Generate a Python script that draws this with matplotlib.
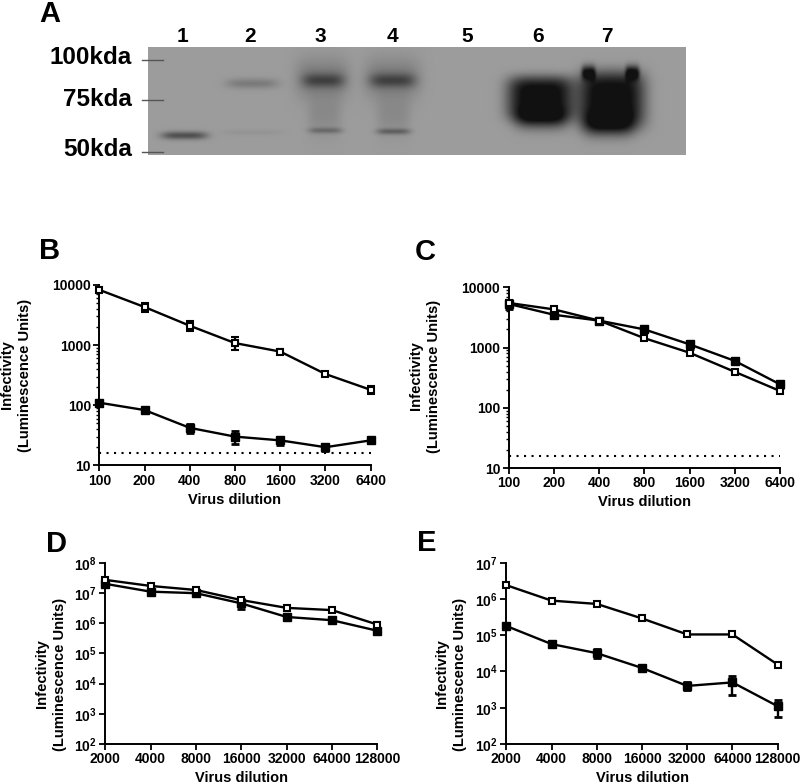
import numpy as np
import matplotlib
matplotlib.use('Agg')
import matplotlib.pyplot as plt

plt.rcParams['font.family'] = ['Liberation Sans', 'DejaVu Sans']
plt.rcParams['font.weight'] = 'bold'
plt.rcParams['mathtext.fontset'] = 'custom'
plt.rcParams['mathtext.bf'] = 'Liberation Sans:bold'
plt.rcParams['mathtext.rm'] = 'Liberation Sans:bold'

W = 800
H = 784
NARROW = ['Liberation Sans Narrow', 'Liberation Sans']

# gel
lane_labels = ['1', '2', '3', '4', '5', '6', '7']
lane_x = [182, 250, 320, 392, 467, 538, 607]
size_labels = ['100kda', '75kda', '50kda']
size_y = [58, 100, 150]
size_tick_y = [60, 100, 152]
# one row per smear: centre x, centre y, half width x, half width y, darkness, y sharpness
band_cx = [184, 252, 252, 322, 323, 324, 325, 392, 392, 393, 393, 540, 541, 611, 608, 588, 632]
band_cy = [135, 83, 132, 78, 80, 115, 130, 78, 80, 115, 131, 98, 120, 100, 125, 72, 72]
band_sx = [23, 26, 30, 27, 21, 17, 17, 28, 23, 17, 17, 33, 27, 33, 25, 7, 7]
band_sy = [4, 5, 3, 20, 7, 20, 3, 20, 7, 20, 3, 22, 10, 29, 12, 7, 7]
band_amp = [0.30, 0.13, 0.03, 0.14, 0.22, 0.07, 0.16, 0.14, 0.22, 0.07, 0.20, 0.60, 0.32, 0.60, 0.30, 0.45, 0.45]
band_ey = [2, 2, 2, 2, 2, 2, 2, 2, 2, 2, 2, 4, 2, 4, 2, 2, 2]

# plots
x_b = ['100', '200', '400', '800', '1600', '3200', '6400']
x_d = ['2000', '4000', '8000', '16000', '32000', '64000', '128000']

b_open = [8300, 4300, 2100, 1080, 780, 330, 180]
b_open_err = [600, 800, 400, 260, 70, 25, 25]
b_fill = [110, 83, 42, 30, 26, 20, 26]
b_fill_err = [8, 6, 7, 7, 4, 3, 2]

c_open = [5500, 4300, 2800, 1430, 820, 395, 190]
c_open_err = [300, 250, 200, 90, 60, 30, 15]
c_fill = [5300, 3500, 2800, 2000, 1130, 600, 245]
c_fill_err = [900, 350, 300, 170, 170, 50, 35]

d_open = [2.7e7, 1.7e7, 1.25e7, 5.8e6, 3.2e6, 2.7e6, 9e5]
d_open_err = [5e6, 2.5e6, 1.5e6, 1e6, 6e5, 3e5, 1.5e5]
d_fill = [2e7, 1.1e7, 9.8e6, 4.5e6, 1.6e6, 1.25e6, 5.6e5]
d_fill_err = [3e6, 1.2e6, 1e6, 1.6e6, 2e5, 1.5e5, 7e4]

e_open = [2.4e6, 9e5, 7.3e5, 2.9e5, 1.05e5, 1.05e5, 1.55e4]
e_open_err = [2e5, 8e4, 6e4, 3e4, 8e3, 8e3, 1.5e3]
e_fill = [1.8e5, 5.7e4, 3.2e4, 1.25e4, 4e3, 5e3, 1.1e3]
e_fill_err = [2e4, 6e3, 9e3, 1e3, 1e3, 2.7e3, 550]


def add_axes_px(fig, left, right, top, bottom):
    return fig.add_axes([left / W, 1 - bottom / H, (right - left) / W, (bottom - top) / H])


def put_text(fig, x, y, s, **kw):
    kw.setdefault('ha', 'center')
    kw.setdefault('va', 'center')
    fig.text(x / W, 1 - y / H, s, **kw)


def draw_panel(fig, box, xlabels, y_open, err_open, y_fill, err_fill, ylim, yticks, yticklabels,
               minor=False, dotted=None, ylab_x=0, ylab_y=0, xlab_y=0):
    ax = add_axes_px(fig, *box)
    xs = np.arange(len(xlabels))
    style = dict(color='black', lw=1.7, capsize=2.8, capthick=2, elinewidth=1.7, clip_on=False)
    ax.errorbar(xs, y_fill, yerr=err_fill, marker='s', ms=6, mfc='black', mec='black', zorder=3, **style)
    ax.errorbar(xs, y_open, yerr=err_open, marker='s', ms=5, mfc='white', mec='black', mew=1.5, zorder=4, **style)
    if dotted is not None:
        ax.plot([0, 6], [dotted, dotted], color='black', lw=1.5, ls=(0, (1, 2.6)), zorder=2)
    ax.set_yscale('log')
    ax.set_xlim(0, 6)
    ax.set_ylim(*ylim)
    ax.set_xticks(xs)
    ax.set_xticklabels(xlabels, fontsize=10, fontweight='bold')
    ax.set_yticks(yticks)
    ax.set_yticklabels(yticklabels, fontsize=10, fontweight='bold')
    if minor:
        ax.yaxis.set_minor_locator(matplotlib.ticker.LogLocator(base=10, subs=np.arange(2, 10), numticks=12))
    else:
        ax.yaxis.set_minor_locator(matplotlib.ticker.NullLocator())
    ax.yaxis.set_minor_formatter(matplotlib.ticker.NullFormatter())
    ax.tick_params(axis='both', which='major', length=4, width=1.3, pad=2)
    ax.tick_params(axis='y', which='minor', length=2.2, width=1.0)
    ax.spines['top'].set_visible(False)
    ax.spines['right'].set_visible(False)
    ax.spines['left'].set_linewidth(1.4)
    ax.spines['bottom'].set_linewidth(1.4)
    ax.patch.set_alpha(0)
    put_text(fig, (box[0] + box[1]) / 2, xlab_y, 'Virus dilution', fontsize=10.5, fontweight='bold')
    put_text(fig, ylab_x, ylab_y, 'Infectivity\n(Luminescence Units)', rotation=90, fontsize=10.6,
             fontweight='bold', linespacing=1.3, multialignment='center')
    return ax


fig = plt.figure(figsize=(W / 100, H / 100), dpi=100)

# gel image, built from the band table
gel_left, gel_right, gel_top, gel_bottom = 148, 686, 47, 155
gx, gy = np.meshgrid(np.arange(gel_left, gel_right), np.arange(gel_top, gel_bottom))
gel = np.full(gx.shape, 0.61)
for cx, cy, sx, sy, amp, ey in zip(band_cx, band_cy, band_sx, band_sy, band_amp, band_ey):
    gel -= amp * np.exp(-np.abs((gx - cx) / sx) ** 4 - np.abs((gy - cy) / sy) ** ey)
gel = np.clip(gel, 0.07, 1)
ax_gel = add_axes_px(fig, gel_left, gel_right, gel_top, gel_bottom)
ax_gel.imshow(gel, cmap='gray', vmin=0, vmax=1, aspect='auto', interpolation='bilinear')
ax_gel.axis('off')

for s, x in zip(lane_labels, lane_x):
    put_text(fig, x, 36, s, fontsize=15, fontweight='bold', family=NARROW)
for s, y in zip(size_labels, size_y):
    put_text(fig, 132, y, s, fontsize=17.5, fontweight='bold', ha='right', family=NARROW)
for y in size_tick_y:
    fig.add_artist(plt.Line2D([142 / W, 163 / W], [1 - y / H, 1 - y / H], color='#555555', lw=1))

put_text(fig, 50, 14, 'A', fontsize=21, fontweight='bold')
put_text(fig, 50, 251, 'B', fontsize=21, fontweight='bold')
put_text(fig, 425, 252, 'C', fontsize=21, fontweight='bold')
put_text(fig, 57, 544, 'D', fontsize=21, fontweight='bold')
put_text(fig, 427, 543, 'E', fontsize=21, fontweight='bold')

ticks_4 = [10, 100, 1000, 10000]
labels_4 = ['10', '100', '1000', '10000']
draw_panel(fig, (99.3, 370.7, 285, 465.3), x_b, b_open, b_open_err, b_fill, b_fill_err, (10, 10000),
           ticks_4, labels_4, minor=True, dotted=16, ylab_x=16, ylab_y=375, xlab_y=500)
draw_panel(fig, (508.7, 780, 287.3, 468), x_b, c_open, c_open_err, c_fill, c_fill_err, (10, 10000),
           ticks_4, labels_4, minor=True, dotted=16, ylab_x=425, ylab_y=376, xlab_y=502)

ticks_d = [10.0 ** i for i in range(2, 9)]
labels_d = [r'$\mathbf{10^{%d}}$' % i for i in range(2, 9)]
draw_panel(fig, (105.3, 377.3, 562.7, 744), x_d, d_open, d_open_err, d_fill, d_fill_err, (1e2, 1e8),
           ticks_d, labels_d, ylab_x=51, ylab_y=674, xlab_y=778)
ticks_e = [10.0 ** i for i in range(2, 8)]
labels_e = [r'$\mathbf{10^{%d}}$' % i for i in range(2, 8)]
draw_panel(fig, (506.3, 777.7, 562.7, 744), x_d, e_open, e_open_err, e_fill, e_fill_err, (1e2, 1e7),
           ticks_e, labels_e, ylab_x=451, ylab_y=674, xlab_y=778)

plt.savefig('out.png', dpi=100)
